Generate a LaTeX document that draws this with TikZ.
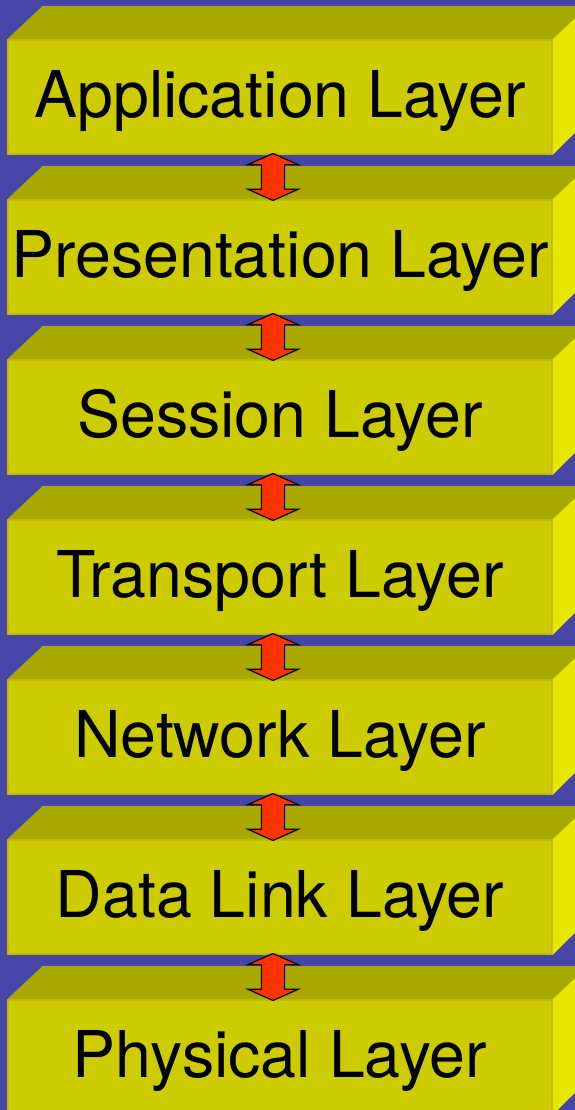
\documentclass[tikz,border=0pt]{standalone}
\usepackage{fontspec}
\setmainfont{TeX Gyre Heros}
\usepackage{tikz}
\usetikzlibrary{shapes.arrows}

\definecolor{bgblue}{HTML}{4646A8}
\definecolor{frontface}{HTML}{CCCC00}
\definecolor{frontedge}{HTML}{BDBD00}
\definecolor{topface}{HTML}{A8A800}
\definecolor{sideface}{HTML}{E6E600}
\definecolor{arrowred}{HTML}{FF3300}

\tikzset{
    layer/.style={rectangle, fill=frontface, draw=frontedge, line width=1.5pt,
        minimum width=544pt, minimum height=114pt, inner sep=0pt,
        text height=46pt, text depth=4pt,
        font=\fontsize{64.5pt}{70pt}\selectfont},
    updown/.style={double arrow, rotate=90, fill=arrowred, draw=black, line width=1.2pt,
        minimum height=47pt, inner xsep=0pt, inner ysep=11pt,
        double arrow head extend=13.5pt, double arrow tip angle=132},
}

\begin{document}
\begin{tikzpicture}[x=1pt, y=1pt]
                \useasboundingbox (0,0) rectangle (575,1110);
                \clip (0,0) rectangle (575,1110);
                \fill[bgblue] (0,0) rectangle (575,1110);

                \node[layer] (app) at (280, 1013) {Application Layer};
                \node[layer] (pres) at (280, 853) {Presentation Layer};
                \node[layer] (sess) at (280, 693) {Session Layer};
                \node[layer] (trans) at (280, 533) {Transport Layer};
                \node[layer] (net) at (280, 373) {Network Layer};
                \node[layer] (link) at (280, 213) {Data Link Layer};
                \node[layer] (phys) at (280, 53) {Physical Layer};

                % top and right faces
                \fill[topface] (app.north west) -- ++(35,33) -- ++(600,0) -- (app.north east) -- cycle;
                \fill[sideface] (app.north east) -- ++(35,33) -- ++(0,-114) -- (app.south east) -- cycle;
                \fill[topface] (pres.north west) -- ++(35,33) -- ++(600,0) -- (pres.north east) -- cycle;
                \fill[sideface] (pres.north east) -- ++(35,33) -- ++(0,-114) -- (pres.south east) -- cycle;
                \fill[topface] (sess.north west) -- ++(35,33) -- ++(600,0) -- (sess.north east) -- cycle;
                \fill[sideface] (sess.north east) -- ++(35,33) -- ++(0,-114) -- (sess.south east) -- cycle;
                \fill[topface] (trans.north west) -- ++(35,33) -- ++(600,0) -- (trans.north east) -- cycle;
                \fill[sideface] (trans.north east) -- ++(35,33) -- ++(0,-114) -- (trans.south east) -- cycle;
                \fill[topface] (net.north west) -- ++(35,33) -- ++(600,0) -- (net.north east) -- cycle;
                \fill[sideface] (net.north east) -- ++(35,33) -- ++(0,-114) -- (net.south east) -- cycle;
                \fill[topface] (link.north west) -- ++(35,33) -- ++(600,0) -- (link.north east) -- cycle;
                \fill[sideface] (link.north east) -- ++(35,33) -- ++(0,-114) -- (link.south east) -- cycle;
                \fill[topface] (phys.north west) -- ++(35,33) -- ++(600,0) -- (phys.north east) -- cycle;
                \fill[sideface] (phys.north east) -- ++(35,33) -- ++(0,-114) -- (phys.south east) -- cycle;

                \path ([xshift=-7pt]app.south) -- ([xshift=-7pt]pres.north) node[midway, updown] (a1) {};
                \path ([xshift=-7pt]pres.south) -- ([xshift=-7pt]sess.north) node[midway, updown] (a2) {};
                \path ([xshift=-7pt]sess.south) -- ([xshift=-7pt]trans.north) node[midway, updown] (a3) {};
                \path ([xshift=-7pt]trans.south) -- ([xshift=-7pt]net.north) node[midway, updown] (a4) {};
                \path ([xshift=-7pt]net.south) -- ([xshift=-7pt]link.north) node[midway, updown] (a5) {};
                \path ([xshift=-7pt]link.south) -- ([xshift=-7pt]phys.north) node[midway, updown] (a6) {};

\end{tikzpicture}
\end{document}
